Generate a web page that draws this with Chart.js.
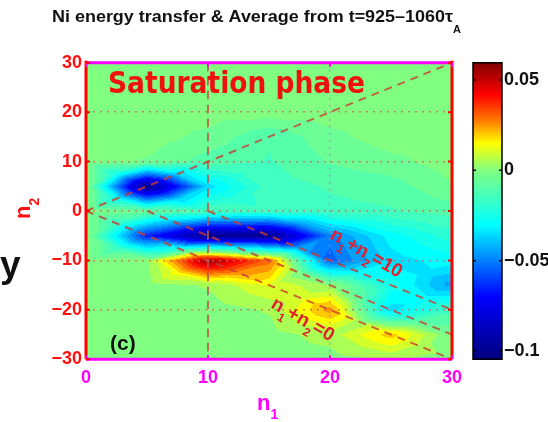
<!DOCTYPE html>
<html>
<head>
<meta charset="utf-8">
<script src="https://cdn.jsdelivr.net/npm/chart.js@4/dist/chart.umd.min.js"></script>
<style>
html, body { margin: 0; padding: 0; background: #fff; }
canvas { display: block; }
</style>
</head>
<body>
<canvas id="chart" width="548" height="422"></canvas>
<script>
// grid of the averaged energy transfer, columns = n1, rows = n2 (top row n2 = 30)
const n1Values = [0, 5, 10, 15, 20, 25, 30];
const n2Values = [30, 25, 20, 15, 10, 5, 0, -5, -10, -15, -20, -25, -30];
const transfer = [
  [0, 0, 0, 0, 0, 0, 0],
  [0, 0, 0, 0, 0, 0, 0],
  [0, 0, 0, 0, 0, 0, 0],
  [0, 0, -0.004, -0.012, -0.004, 0, 0],
  [0, -0.003, -0.01, -0.013, -0.007, -0.004, 0],
  [0, -0.1, -0.035, -0.015, -0.012, -0.01, -0.003],
  [0, -0.006, -0.013, -0.016, -0.014, -0.013, -0.01],
  [0, -0.065, -0.1, -0.1, -0.05, -0.03, -0.02],
  [0, 0.002, 0.056, 0.03, -0.055, -0.035, -0.03],
  [0, 0, 0.003, 0.013, 0.002, -0.025, -0.045],
  [0, 0, 0, 0.003, 0.025, -0.035, -0.015],
  [0, 0, 0, 0, 0.005, 0.02, -0.003],
  [0, 0, 0, 0, 0, 0.003, 0]
];

const xTicks = [0, 10, 20, 30];
const yTicks = [-30, -20, -10, 0, 10, 20, 30];
const cbTicks = [-0.1, -0.05, 0, 0.05];
const cbRange = [-0.1045, 0.0595];
const sumLevels = [0, 5, 10];   // dashed lines n1 + n2 = c
const markN1 = 10;              // vertical dashed line

// colormap (value -> rgb)
const cmapStops = [-0.1035, -0.07, -0.05, -0.03, 0, 0.015, 0.027, 0.042, 0.0595];
const cmapRgb = [[0,0,128],[0,0,255],[0,128,255],[0,255,255],[128,255,128],[255,255,0],[255,128,0],[255,0,0],[128,0,0]];
const levelStep = 0.005;

function colorFor(v) {
  if (v <= cmapStops[0]) return cmapRgb[0];
  for (let i = 1; i < cmapStops.length; i++) {
    if (v <= cmapStops[i]) {
      const t = (v - cmapStops[i - 1]) / (cmapStops[i] - cmapStops[i - 1]);
      const a = cmapRgb[i - 1], b = cmapRgb[i];
      return [a[0] + (b[0] - a[0]) * t, a[1] + (b[1] - a[1]) * t, a[2] + (b[2] - a[2]) * t];
    }
  }
  return cmapRgb[cmapRgb.length - 1];
}

function locate(arr, v) {
  const asc = arr[arr.length - 1] > arr[0];
  for (let i = 0; i < arr.length - 1; i++) {
    const lo = arr[i], hi = arr[i + 1];
    if ((asc && v >= lo && v <= hi) || (!asc && v <= lo && v >= hi)) {
      return [i, (v - lo) / (hi - lo)];
    }
  }
  return v < Math.min(arr[0], arr[arr.length - 1]) === asc ? [0, 0] : [arr.length - 2, 1];
}

// linear interpolation on four triangles per cell (cell centre = mean of corners)
function fieldAt(n1, n2) {
  const [i, s] = locate(n1Values, n1);
  const [j, t] = locate(n2Values, n2);
  const a = transfer[j][i], b = transfer[j][i + 1];
  const c = transfer[j + 1][i], d = transfer[j + 1][i + 1];
  const m = (a + b + c + d) / 4;
  if (t <= s && t <= 1 - s) return a * (1 - s - t) + b * (s - t) + m * 2 * t;
  if (s >= t && s >= 1 - t) return b * (s - t) + d * (s + t - 1) + m * 2 * (1 - s);
  if (t >= s && t >= 1 - s) return c * (t - s) + d * (s + t - 1) + m * 2 * (1 - t);
  return a * (1 - s - t) + c * (t - s) + m * 2 * s;
}

const minus = v => (v < 0 ? '\u2212' + Math.abs(v) : String(v));
const FONT = '"Liberation Sans", Arial, sans-serif';

function richText(ctx, parts, x, y, size, color) {
  let cx = x;
  ctx.fillStyle = color;
  ctx.textBaseline = 'alphabetic';
  ctx.textAlign = 'left';
  parts.forEach(([txt, sub]) => {
    const fs = sub ? Math.round(size * 0.62) : size;
    ctx.font = 'bold ' + fs + 'px ' + FONT;
    ctx.fillText(txt, cx, y + (sub ? size * 0.4 : 0));
    cx += ctx.measureText(txt).width;
  });
}

const heatmap = {
  id: 'heatmap',
  beforeDraw(chart) {
    const { ctx, chartArea: a, scales: { x, y, cb } } = chart;
    const w = Math.round(a.right - a.left), h = Math.round(a.bottom - a.top);
    const img = ctx.createImageData(w, h);
    for (let py = 0; py < h; py++) {
      const n2 = y.getValueForPixel(a.top + py + 0.5);
      for (let px = 0; px < w; px++) {
        const n1 = x.getValueForPixel(a.left + px + 0.5);
        const v = Math.round(fieldAt(n1, n2) / levelStep) * levelStep;
        const c = colorFor(v);
        const k = (py * w + px) * 4;
        img.data[k] = c[0]; img.data[k + 1] = c[1]; img.data[k + 2] = c[2]; img.data[k + 3] = 255;
      }
    }
    ctx.putImageData(img, Math.round(a.left), Math.round(a.top));

    // colorbar
    const x0 = cb.left + 21, bw = 29;
    for (let py = Math.floor(cb.top); py < cb.bottom; py++) {
      const c = colorFor(cb.getValueForPixel(py + 0.5));
      ctx.fillStyle = 'rgb(' + c.map(Math.round).join(',') + ')';
      ctx.fillRect(x0, py, bw, 1);
    }
    ctx.strokeStyle = '#000';
    ctx.lineWidth = 1.5;
    ctx.strokeRect(x0, cb.top, bw, cb.bottom - cb.top);
    cbTicks.forEach(v => {
      const py = cb.getPixelForValue(v);
      ctx.beginPath();
      ctx.moveTo(x0, py); ctx.lineTo(x0 + 3, py);
      ctx.moveTo(x0 + bw, py); ctx.lineTo(x0 + bw - 3, py);
      ctx.stroke();
    });
  },
  afterDraw(chart) {
    const { ctx, chartArea: a, scales: { x, y } } = chart;
    ctx.save();
    // axes box
    ctx.lineWidth = 3;
    ctx.strokeStyle = '#ff00ff';
    ctx.beginPath();
    ctx.moveTo(a.left, a.top); ctx.lineTo(a.right, a.top);
    ctx.moveTo(a.left, a.bottom); ctx.lineTo(a.right, a.bottom);
    ctx.stroke();
    ctx.strokeStyle = '#ff0000';
    ctx.beginPath();
    ctx.moveTo(a.left, a.top - 2); ctx.lineTo(a.left, a.bottom);
    ctx.moveTo(a.right, a.top - 2); ctx.lineTo(a.right, a.bottom);
    ctx.stroke();
    ctx.lineWidth = 2;
    ctx.strokeStyle = '#ff00ff';
    xTicks.forEach(v => {
      const px = x.getPixelForValue(v);
      ctx.beginPath();
      ctx.moveTo(px, a.top); ctx.lineTo(px, a.top + 4);
      ctx.moveTo(px, a.bottom); ctx.lineTo(px, a.bottom - 4);
      ctx.stroke();
    });
    ctx.strokeStyle = '#ff0000';
    yTicks.forEach(v => {
      const py = y.getPixelForValue(v);
      ctx.beginPath();
      ctx.moveTo(a.left, py); ctx.lineTo(a.left + 4, py);
      ctx.moveTo(a.right, py); ctx.lineTo(a.right - 4, py);
      ctx.stroke();
    });

    // title
    const title = 'Ni energy transfer & Average from t=925\u20131060\u03c4';
    ctx.font = 'bold 16px ' + FONT;
    ctx.fillStyle = '#111';
    ctx.textBaseline = 'alphabetic';
    const tw = ctx.measureText(title).width;
    ctx.save();
    ctx.translate(52, 22);
    ctx.scale(401 / tw, 1);
    ctx.fillText(title, 0, 0);
    ctx.restore();
    ctx.font = 'bold 11px ' + FONT;
    ctx.fillText('A', 453, 33);

    // annotation text
    ctx.font = 'bold 31px "DejaVu Sans", sans-serif';
    ctx.fillStyle = '#f01010';
    const st = 'Saturation phase';
    const sw = ctx.measureText(st).width;
    ctx.save();
    ctx.translate(108, 93);
    ctx.scale(257 / sw, 1);
    ctx.fillText(st, 0, 0);
    ctx.restore();

    ctx.font = 'bold 21px ' + FONT;
    ctx.fillStyle = '#111';
    ctx.fillText('(c)', 110, 350);

    ctx.font = 'bold 37px ' + FONT;
    ctx.fillStyle = '#111';
    ctx.fillText('y', 0, 277);

    // axis titles
    ctx.save();
    ctx.translate(30, 219);
    ctx.rotate(-Math.PI / 2);
    richText(ctx, [['n', false], ['2', true]], 0, 0, 22, '#ff1010');
    ctx.restore();
    richText(ctx, [['n', false], ['1', true]], 257, 410, 22, '#ff00ff');

    // line labels
    const ang = 30 * Math.PI / 180;
    ctx.save();
    ctx.translate(329, 238);
    ctx.rotate(ang);
    richText(ctx, [['n', false], ['1', true], ['+', false], ['n', false], ['2', true], ['=10', false]], 0, 0, 19, '#e0202a');
    ctx.restore();
    ctx.save();
    ctx.translate(270, 307);
    ctx.rotate(ang);
    richText(ctx, [['n', false], ['1', true], ['+', false], ['n', false], ['2', true], ['=0', false]], 0, 0, 19, '#e0202a');
    ctx.restore();
    ctx.restore();
  }
};

const dashStyle = {
  showLine: true,
  pointRadius: 0,
  borderWidth: 2,
  borderDash: [8, 6],
  borderColor: 'rgba(200,60,50,0.8)',
  fill: false
};

const datasets = [
  { ...dashStyle, data: [{ x: 0, y: 0 }, { x: 30, y: 30 }] },
  { ...dashStyle, borderColor: 'rgba(185,85,70,0.8)', data: [{ x: markN1, y: 30 }, { x: markN1, y: -30 }] },
  ...sumLevels.map(c => ({ ...dashStyle, data: [{ x: c, y: 0 }, { x: 30, y: c - 30 }] }))
];

const tickFont = { family: FONT, size: 18, weight: 'bold' };

new Chart(document.getElementById('chart'), {
  type: 'scatter',
  data: { datasets },
  options: {
    responsive: false,
    animation: false,
    devicePixelRatio: 1,
    events: [],
    layout: { padding: { top: 47, left: 0, right: 0, bottom: 0 } },
    plugins: { legend: { display: false }, tooltip: { enabled: false }, title: { display: false } },
    scales: {
      x: {
        type: 'linear', min: 0, max: 30,
        afterFit: s => { s.height = 51; },
        afterBuildTicks: s => { s.ticks = xTicks.map(v => ({ value: v })); },
        ticks: { color: '#ff00ff', font: tickFont, padding: 8, maxRotation: 0, callback: minus },
        grid: {
          drawTicks: false,
          lineWidth: 1.5,
          color: c => (c.tick && (c.tick.value === 0 || c.tick.value === 30) ? 'rgba(0,0,0,0)' : 'rgba(185,120,200,0.75)')
        },
        border: { display: false, dash: [2, 5] }
      },
      y: {
        type: 'linear', min: -30, max: 30,
        afterFit: s => { s.width = 86; },
        afterBuildTicks: s => { s.ticks = yTicks.map(v => ({ value: v })); },
        ticks: { color: '#ff1010', font: tickFont, padding: 4, callback: minus },
        grid: {
          drawTicks: false,
          lineWidth: 1.5,
          color: c => (c.tick && Math.abs(c.tick.value) === 30 ? 'rgba(0,0,0,0)' : 'rgba(200,105,95,0.8)')
        },
        border: { display: false, dash: [2, 5] }
      },
      cb: {
        type: 'linear', axis: 'y', position: 'right',
        min: cbRange[0], max: cbRange[1],
        afterFit: s => { s.width = 96; },
        afterBuildTicks: s => { s.ticks = cbTicks.map(v => ({ value: v })); },
        ticks: { color: '#111', font: tickFont, padding: 52, callback: minus },
        grid: { display: false, drawTicks: false },
        border: { display: false }
      }
    }
  },
  plugins: [heatmap]
});
</script>
</body>
</html>
